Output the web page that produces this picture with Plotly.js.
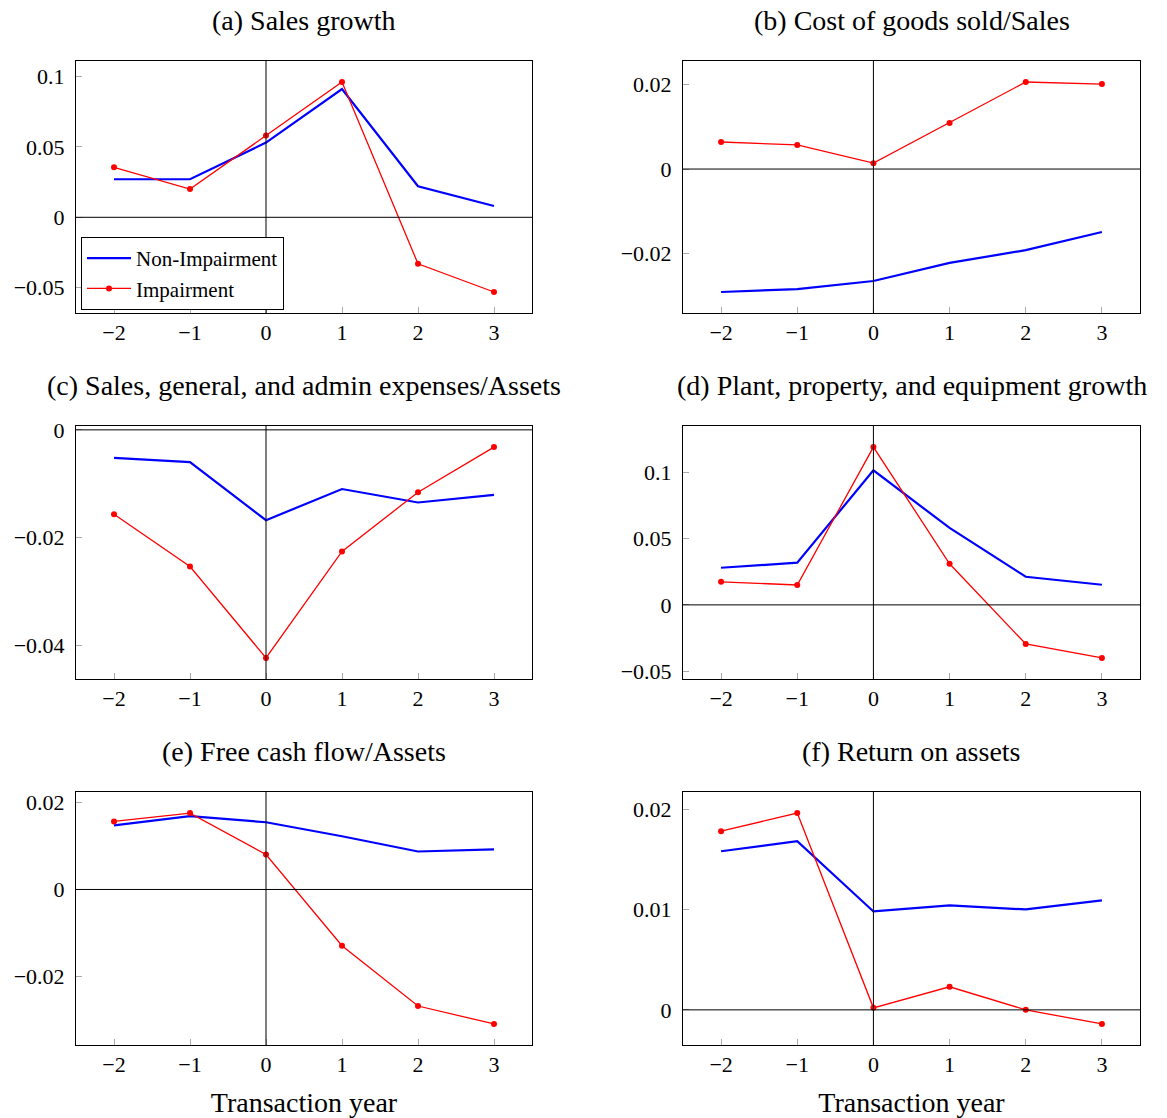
<!DOCTYPE html>
<html>
<head>
<meta charset="utf-8">
<script src="https://cdn.plot.ly/plotly-3.0.1.min.js"></script>
<style>html,body{margin:0;padding:0;background:#fff}#chart{width:1167px;height:1118px}</style>
</head>
<body>
<div id="chart"></div>
<script>
// Transaction years (x axis)
const years = [-2, -1, 0, 1, 2, 3];
const xTickVals = [-2, -1, 0, 1, 2, 3];
const xTickText = ['\u22122', '\u22121', '0', '1', '2', '3'];

const seriesNames = ['Non-Impairment', 'Impairment'];

const panelTitles = [
  '(a) Sales growth',
  '(b) Cost of goods sold/Sales',
  '(c) Sales, general, and admin expenses/Assets',
  '(d) Plant, property, and equipment growth',
  '(e) Free cash flow/Assets',
  '(f) Return on assets'
];

// (a) Sales growth
const salesGrowthNon = [0.027, 0.027, 0.053, 0.091, 0.022, 0.008];
const salesGrowthImp = [0.0355, 0.020, 0.058, 0.096, -0.033, -0.053];
// (b) Cost of goods sold / Sales
const cogsNon = [-0.0291, -0.0284, -0.0265, -0.0222, -0.0192, -0.0149];
const cogsImp = [0.0064, 0.0057, 0.0014, 0.0109, 0.0206, 0.0201];
// (c) SG&A / Assets
const sgaNon = [-0.0052, -0.0060, -0.0168, -0.0110, -0.0135, -0.0121];
const sgaImp = [-0.0157, -0.0254, -0.0424, -0.0226, -0.0116, -0.0032];
// (d) PP&E growth
const ppeNon = [0.028, 0.0318, 0.1015, 0.058, 0.0212, 0.0152];
const ppeImp = [0.0174, 0.015, 0.119, 0.031, -0.0295, -0.040];
// (e) Free cash flow / Assets
const fcfNon = [0.0147, 0.0168, 0.0154, 0.0122, 0.0087, 0.0092];
const fcfImp = [0.0156, 0.0175, 0.0080, -0.0129, -0.0267, -0.0308];
// (f) Return on assets
const roaNon = [0.0158, 0.0168, 0.0098, 0.0104, 0.0100, 0.0109];
const roaImp = [0.0178, 0.0196, 0.0002, 0.0023, 0.0000, -0.0014];

// y tick labels per panel
const yTickValsA = [-0.05, 0, 0.05, 0.1];
const yTickTextA = ['\u22120.05', '0', '0.05', '0.1'];
const yTickValsB = [-0.02, 0, 0.02];
const yTickTextB = ['\u22120.02', '0', '0.02'];
const yTickValsC = [-0.04, -0.02, 0];
const yTickTextC = ['\u22120.04', '\u22120.02', '0'];
const yTickValsD = [-0.05, 0, 0.05, 0.1];
const yTickTextD = ['\u22120.05', '0', '0.05', '0.1'];
const yTickValsE = [-0.02, 0, 0.02];
const yTickTextE = ['\u22120.02', '0', '0.02'];
const yTickValsF = [0, 0.01, 0.02];
const yTickTextF = ['0', '0.01', '0.02'];

const panels = [
  {non: salesGrowthNon, imp: salesGrowthImp, tv: yTickValsA, tt: yTickTextA},
  {non: cogsNon, imp: cogsImp, tv: yTickValsB, tt: yTickTextB},
  {non: sgaNon, imp: sgaImp, tv: yTickValsC, tt: yTickTextC},
  {non: ppeNon, imp: ppeImp, tv: yTickValsD, tt: yTickTextD},
  {non: fcfNon, imp: fcfImp, tv: yTickValsE, tt: yTickTextE},
  {non: roaNon, imp: roaImp, tv: yTickValsF, tt: yTickTextF}
];

const W = 1167, H = 1118;
const colX = [[76, 532], [683, 1140]];
const rowY = [[61, 313], [426, 679], [792, 1045]];
const FONT = 'Liberation Serif';

const traces = [];
const layout = {
  width: W, height: H,
  margin: {l: 0, r: 0, t: 0, b: 0},
  paper_bgcolor: '#fff', plot_bgcolor: '#fff',
  font: {family: FONT, size: 21, color: '#000'},
  showlegend: true,
  legend: {
    x: 81 / W, y: 1 - 310 / H, xanchor: 'left', yanchor: 'bottom',
    bgcolor: '#fff', bordercolor: '#000', borderwidth: 1,
    font: {family: FONT, size: 21, color: '#000'}, tracegroupgap: 0, itemwidth: 44
  },
  annotations: [],
  shapes: []
};

panels.forEach((p, i) => {
  const r = Math.floor(i / 2), c = i % 2;
  const xs = i === 0 ? '' : String(i + 1);
  const xa = 'x' + xs, ya = 'y' + xs;
  traces.push({
    x: years, y: p.non, xaxis: xa, yaxis: ya, type: 'scatter', mode: 'lines',
    name: seriesNames[0], line: {color: '#0000ff', width: 2.2},
    showlegend: i === 0, legendgroup: 'non', cliponaxis: false
  });
  traces.push({
    x: years, y: p.imp, xaxis: xa, yaxis: ya, type: 'scatter', mode: 'lines+markers',
    name: seriesNames[1], line: {color: '#ff0000', width: 1.3},
    marker: {color: '#ff0000', size: 6},
    showlegend: i === 0, legendgroup: 'imp', cliponaxis: false
  });
  const all = p.non.concat(p.imp);
  const mn = Math.min(...all), mx = Math.max(...all);
  const pad = 0.1 * (mx - mn);
  const axCommon = {
    showline: true, mirror: true, linecolor: '#000', linewidth: 1,
    showgrid: false, zeroline: false,
    ticks: 'inside', ticklen: 6, tickcolor: '#aaa', tickwidth: 1,
    tickfont: {family: FONT, size: 22, color: '#000'}, fixedrange: true
  };
  layout['xaxis' + xs] = Object.assign({}, axCommon, {
    domain: [colX[c][0] / W, colX[c][1] / W],
    anchor: ya, range: [-2.5, 3.5],
    tickvals: xTickVals, ticktext: xTickText, ticklabelstandoff: 0
  });
  layout['yaxis' + xs] = Object.assign({}, axCommon, {
    domain: [1 - rowY[r][1] / H, 1 - rowY[r][0] / H],
    anchor: xa, range: [mn - pad, mx + pad],
    tickvals: p.tv, ticktext: p.tt, ticklabelstandoff: 6
  });
  if (r === 2) {
    layout['xaxis' + xs].title = {text: 'Transaction year', font: {family: FONT, size: 28, color: '#000'}, standoff: 22};
  }
  // zero reference lines (x = 0 and y = 0), drawn above the tick marks
  layout.shapes.push({type: 'line', layer: 'above', xref: xa, yref: ya + ' domain', x0: 0, x1: 0, y0: 0, y1: 1, line: {color: '#000', width: 1}});
  layout.shapes.push({type: 'line', layer: 'above', xref: xa + ' domain', yref: ya, x0: 0, x1: 1, y0: 0, y1: 0, line: {color: '#000', width: 1}});
  layout.annotations.push({
    text: panelTitles[i], xref: 'paper', yref: 'paper',
    x: (colX[c][0] + colX[c][1]) / 2 / W, y: 1 - (rowY[r][0] - 41) / H,
    xanchor: 'center', yanchor: 'middle', showarrow: false,
    font: {family: FONT, size: 28, color: '#000'}
  });
});

Plotly.newPlot('chart', traces, layout, {staticPlot: true, displayModeBar: false});
</script>
</body>
</html>
